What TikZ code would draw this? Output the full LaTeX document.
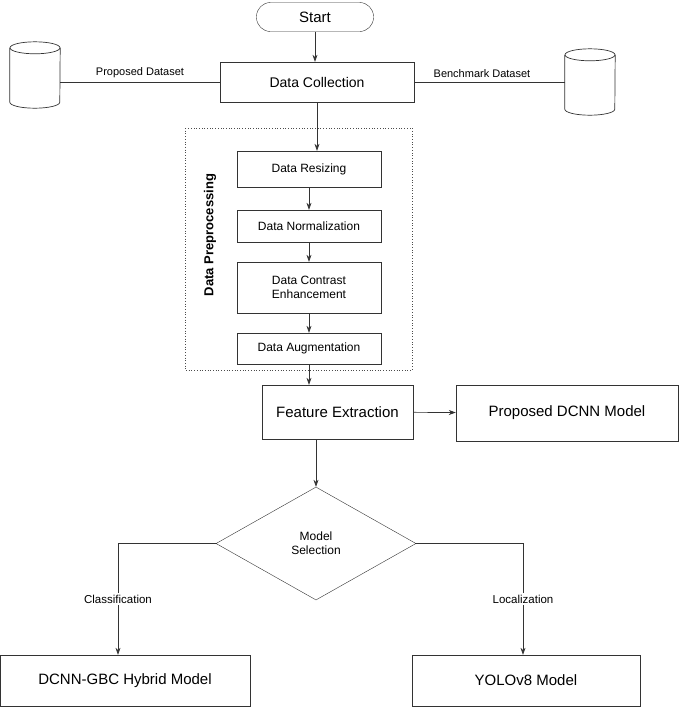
\documentclass[tikz,border=0pt]{standalone}
\usepackage{fontspec}
\setmainfont{Liberation Sans}
\usetikzlibrary{shapes.geometric,arrows.meta}
\begin{document}
\begin{tikzpicture}[x=1pt,y=-1pt,
  box/.style={draw=black!80,rectangle,minimum width=#1,align=center,inner sep=2pt,font=\fontsize{14}{16}\selectfont},
  sbox/.style={draw=black!80,rectangle,minimum width=144pt,align=center,inner sep=2pt,font=\fontsize{12}{14}\selectfont},
  arr/.style={draw=black!80,-{Stealth[length=7pt,width=5pt]},line width=0.7pt},
  ln/.style={draw=black!80,line width=0.7pt},
  lab/.style={font=\fontsize{11.5}{13}\selectfont,fill=white,inner sep=2pt},
  cylpath/.style={draw=black!80,line width=0.7pt}]
\useasboundingbox (0,0) rectangle (685,713);
\node[draw=black!80,rounded corners=14pt,minimum width=117pt,minimum height=29pt,font=\fontsize{15}{17}\selectfont] (start) at (315,17) {Start};
\node[box=194pt,minimum height=40pt] (dc) at (317,82) {Data Collection};
% cylinders
\node[minimum width=50pt,minimum height=66pt,inner sep=0pt] (c1) at (35,75) {};
\node[minimum width=50pt,minimum height=66pt,inner sep=0pt] (c2) at (590,82) {};
\foreach \c in {c1,c2}{
  \draw[cylpath] ([yshift=-6pt]\c.north west) -- ([yshift=6pt]\c.south west)
     arc[start angle=180,end angle=360,x radius=25pt,y radius=6pt]
     -- ([yshift=-6pt]\c.north east);
  \draw[cylpath] ([yshift=-6pt]\c.north) ellipse[x radius=25pt,y radius=6pt];
}
\draw[ln] (c1.east |- dc) -- node[above=1pt,font=\fontsize{11}{13}\selectfont]{Proposed Dataset} (dc.west);
\draw[ln] (c2.west |- dc) -- node[above=1pt,font=\fontsize{11}{13}\selectfont,pos=0.55]{Benchmark Dataset} (dc.east);
\draw[dotted,black!70,line width=0.7pt] (185,128) rectangle (412,370);
\node[rotate=90,font=\bfseries\fontsize{13}{15}\selectfont] (dp) at (210,235) {Data Preprocessing};
\node[sbox,minimum height=36pt] (r) at (309,169) {Data Resizing};
\node[sbox,minimum height=32pt] (n) at (309,226) {Data Normalization};
\node[sbox,minimum height=51pt] (ce) at (309,287.5) {Data Contrast\\Enhancement};
\node[sbox,minimum height=31pt] (au) at (309,348.5) {Data Augmentation};
\node[box=151pt,minimum height=54pt,font=\fontsize{15}{17}\selectfont] (fe) at (337.5,412) {Feature Extraction};
\node[box=222pt,minimum height=56pt,font=\fontsize{15}{17}\selectfont] (pd) at (567,413) {Proposed DCNN Model};
\node[draw=black!80,diamond,aspect=1.77,minimum width=200pt,minimum height=113pt,align=center,inner sep=0pt,font=\fontsize{12}{14}\selectfont] (ms) at (316,543.5) {Model\\Selection};
\node[box=250pt,minimum height=51pt,font=\fontsize{15}{17}\selectfont] (gbc) at (125,680.5) {DCNN-GBC Hybrid Model};
\node[box=228pt,minimum height=51pt,font=\fontsize{15}{17}\selectfont] (yo) at (526,680.5) {YOLOv8 Model};
\draw[arr] (start.south) -- (start.south |- dc.north);
\draw[arr] (dc) -- (dc |- r.north);
\draw[arr] (r) -- (n);
\draw[arr] (n) -- (ce);
\draw[arr] (ce) -- (au);
\draw[arr] (au.south) -- (au.south |- fe.north);
\draw[arr] (fe) -- (pd);
\draw[arr] (ms.north |- fe.south) -- (ms.north);
\draw[arr] (ms.west) -| node[lab,pos=0.75]{Classification} (118,0 |- gbc.north);
\draw[arr] (ms.east) -| node[lab,pos=0.75]{Localization} (523,0 |- yo.north);
\end{tikzpicture}
\end{document}
